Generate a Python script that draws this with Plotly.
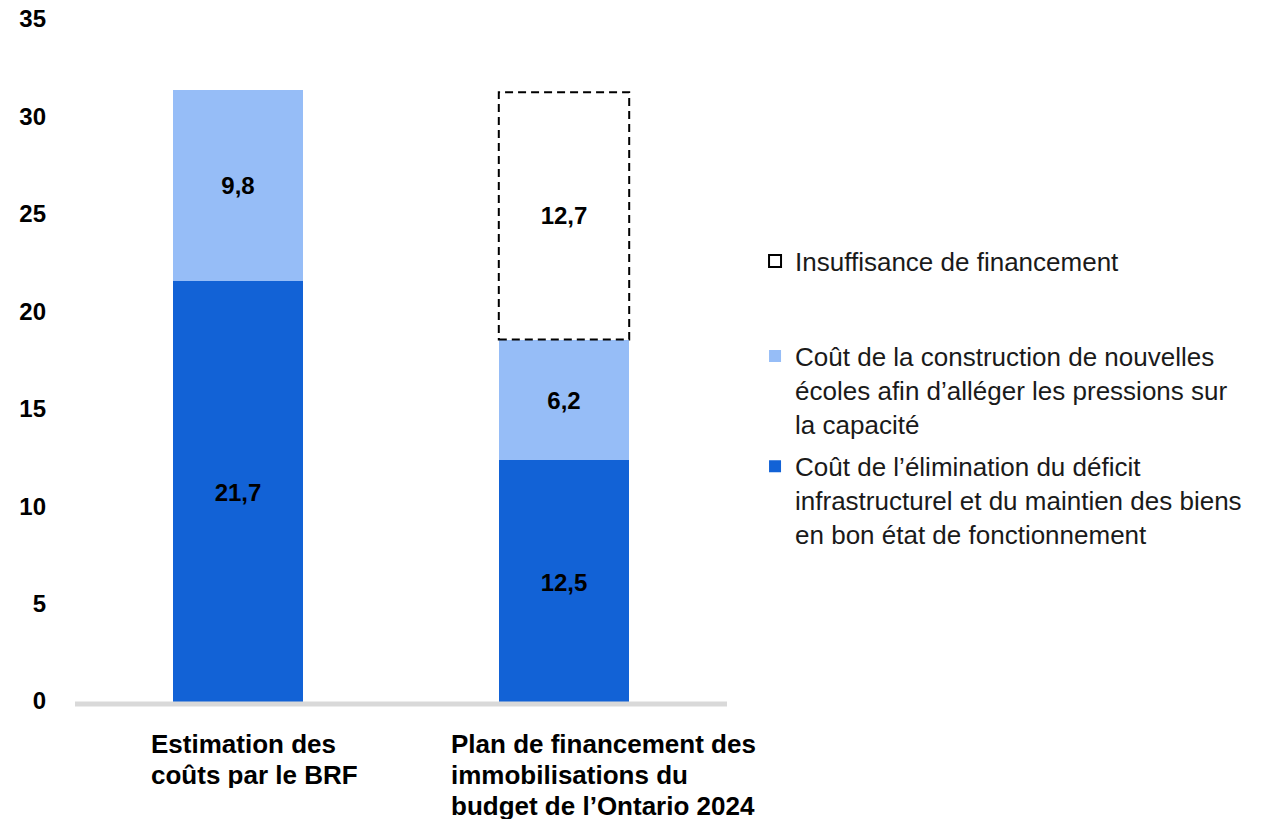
import plotly.graph_objects as go

categories = ["Estimation des<br>coûts par le BRF",
              "Plan de financement des<br>immobilisations du<br>budget de l’Ontario 2024"]
series_names = [
    "Coût de l’élimination du déficit<br>infrastructurel et du maintien des biens<br>en bon état de fonctionnement",
    "Coût de la construction de nouvelles<br>écoles afin d’alléger les pressions sur<br>la capacité",
    "Insuffisance de financement",
]
maintenance = [21.7, 12.5]
new_schools = [9.8, 6.2]
gap = [None, 12.7]
y_ticks = [0, 5, 10, 15, 20, 25, 30, 35]

DARK = "#1262D6"
LIGHT = "#96BDF7"
FONT = "Liberation Sans, Arial, sans-serif"
BAR_W = 0.4

fig = go.Figure()
fig.add_trace(go.Bar(x=categories, y=maintenance, name=series_names[0],
                     marker=dict(color=DARK, line=dict(width=0)), width=BAR_W,
                     texttemplate="%{y:.1f}", textposition="inside",
                     insidetextanchor="middle", textangle=0,
                     textfont=dict(family=FONT, size=24, color="black", weight="bold"),
                     legend="legend2", legendgroup="g0", legendrank=2))
fig.add_trace(go.Bar(x=categories, y=new_schools, name=series_names[1],
                     marker=dict(color=LIGHT, line=dict(width=0)), width=BAR_W,
                     texttemplate="%{y:.1f}", textposition="inside",
                     insidetextanchor="middle", textangle=0,
                     textfont=dict(family=FONT, size=24, color="black", weight="bold"),
                     legend="legend2", legendgroup="g1", legendrank=1))
fig.add_trace(go.Bar(x=categories, y=gap, name=series_names[2],
                     marker=dict(color="rgba(0,0,0,0)", line=dict(width=0)), width=BAR_W,
                     texttemplate="%{y:.1f}", textposition="inside",
                     insidetextanchor="middle", textangle=0,
                     textfont=dict(family=FONT, size=24, color="black", weight="bold"),
                     showlegend=False))

shapes = []
# baseline (x axis line) drawn at y = 0 over the bar bottoms
shapes.append(dict(type="line", xref="paper", yref="y", x0=0, x1=1, y0=0, y1=0,
                   line=dict(color="#d9d9d9", width=5), layer="above"))
# dashed outline for the funding gap, computed from the data
for i, g in enumerate(gap):
    if g is None:
        continue
    base = maintenance[i] + new_schools[i]
    shapes.append(dict(type="rect", xref="x", yref="y",
                       x0=i - BAR_W / 2, x1=i + BAR_W / 2, y0=base, y1=base + g,
                       line=dict(color="black", width=2, dash="8px,5px"),
                       fillcolor="rgba(0,0,0,0)", layer="above",
                       showlegend=True, name=series_names[2], legend="legend"))

# left-aligned category labels, one annotation per line for tight line spacing
label_xshift = [-89, -115]
annotations = []
for i, c in enumerate(categories):
    for k, line in enumerate(c.split("<br>")):
        annotations.append(dict(x=c, xref="x", y=0, yref="paper", text=line,
                                showarrow=False, xanchor="left", yanchor="middle",
                                height=26,
                                xshift=label_xshift[i], yshift=-37 - 31 * k,
                                font=dict(family=FONT, size=26, color="black", weight="bold")))

fig.update_layout(
    width=1266, height=819,
    margin=dict(l=75, r=539, t=22, b=112, autoexpand=False),
    barmode="stack",
    separators=", ",
    plot_bgcolor="white", paper_bgcolor="white",
    font=dict(family=FONT, color="black"),
    shapes=shapes,
    annotations=annotations,
    xaxis=dict(range=[-0.5, 1.5], showticklabels=False, showgrid=False,
               showline=False, zeroline=False, ticks="", automargin=False),
    yaxis=dict(range=[-0.154, 35], tickvals=y_ticks, showgrid=False, zeroline=False,
               showline=False, ticks="", ticklabelstandoff=28, ticklabelshift=-3,
               automargin=False,
               tickfont=dict(family=FONT, size=24, color="black", weight="bold")),
    legend=dict(x=1.043, xanchor="left", y=0.651, yanchor="middle",
                font=dict(family=FONT, size=26, color="#1a1a1a"),
                bgcolor="rgba(0,0,0,0)"),
    legend2=dict(x=1.043, xanchor="left", y=0.5467, yanchor="top",
                 traceorder="grouped", valign="top", tracegroupgap=6,
                 font=dict(family=FONT, size=26, color="#1a1a1a"),
                 bgcolor="rgba(0,0,0,0)"),
)

fig.write_html("out.html", post_script="document.body.style.margin='0px';",
               config={"displayModeBar": False})
